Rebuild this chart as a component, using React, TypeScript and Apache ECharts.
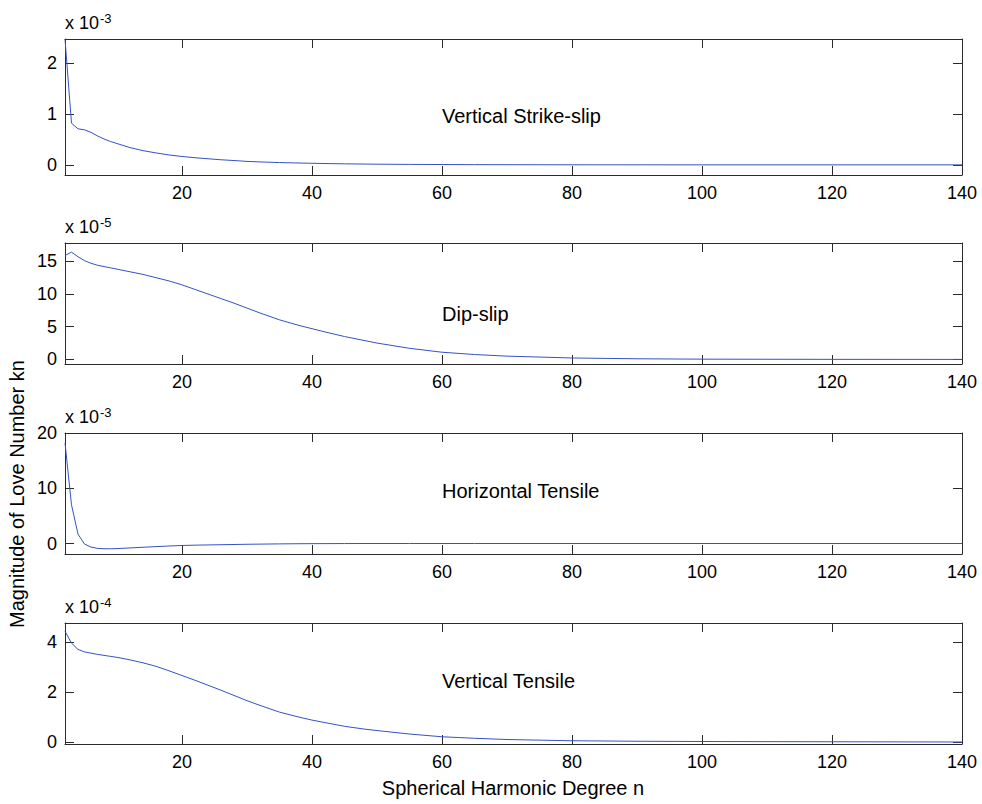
import React, { useEffect, useRef } from "react";
import * as echarts from "echarts";

// Spherical harmonic degree n
const degrees = [2, 3, 4, 5, 6, 7, 8, 9, 10, 12, 14, 16, 18, 20, 22, 24, 26, 28, 30, 32, 35, 38, 40, 42, 45, 48, 50, 55, 60, 65, 70, 80, 90, 100, 120, 140];

// Vertical Strike-slip (x 10^-3)
const strikeSlip = [2.48, 0.82, 0.71, 0.69, 0.64, 0.57, 0.51, 0.46, 0.42, 0.34, 0.28, 0.235, 0.195, 0.165, 0.14, 0.12, 0.1, 0.085, 0.068, 0.058, 0.045, 0.036, 0.031, 0.026, 0.02, 0.016, 0.013, 0.009, 0.006, 0.004, 0.003, 0.001, 0.0005, 0, 0, 0];
// Dip-slip (x 10^-5)
const dipSlip = [15.9, 16.4, 15.7, 15.1, 14.7, 14.4, 14.2, 14.0, 13.8, 13.4, 13.0, 12.5, 12.0, 11.4, 10.7, 10.0, 9.3, 8.6, 7.85, 7.1, 6.05, 5.2, 4.7, 4.2, 3.5, 2.9, 2.5, 1.7, 1.1, 0.75, 0.5, 0.22, 0.1, 0.04, 0.01, 0];
// Horizontal Tensile (x 10^-3)
const horizTensile = [18.2, 7.0, 1.7, -0.1, -0.65, -0.88, -0.95, -0.95, -0.92, -0.8, -0.68, -0.56, -0.45, -0.36, -0.3, -0.26, -0.22, -0.18, -0.14, -0.11, -0.07, -0.04, -0.03, -0.02, -0.01, 0, 0, 0, 0, 0, 0, 0, 0, 0, 0, 0];
// Vertical Tensile (x 10^-4)
const vertTensile = [4.45, 3.97, 3.72, 3.62, 3.57, 3.52, 3.48, 3.44, 3.40, 3.30, 3.18, 3.04, 2.86, 2.67, 2.48, 2.28, 2.08, 1.87, 1.66, 1.47, 1.2, 1.0, 0.88, 0.78, 0.63, 0.52, 0.46, 0.32, 0.21, 0.15, 0.1, 0.05, 0.03, 0.02, 0.01, 0];

const xTicks = [20, 40, 60, 80, 100, 120, 140];
const panelTitles = ["Vertical Strike-slip", "Dip-slip", "Horizontal Tensile", "Vertical Tensile"];
const exponents = ["-3", "-5", "-3", "-4"];
const yTicks = [[0, 1, 2], [0, 5, 10, 15], [0, 10, 20], [0, 2, 4]];
const yRanges = [[-0.2, 2.48], [-0.7, 17.8], [-1.9, 20], [-0.08, 4.78]];
const seriesData = [strikeSlip, dipSlip, horizTensile, vertTensile];

const FONT = "'Liberation Sans', Arial, Helvetica, sans-serif";
const LINE_COLOR = "#3552c4";
const AXIS_COLOR = "#2a2a2a";

const gridTops = [39, 243, 433, 623];
const gridHeights = [136, 121, 121, 121];
const GRID_LEFT = 65;
const GRID_WIDTH = 897;
const textCenters = [116, 314, 491, 681];

export default function App() {
  const ref = useRef<HTMLDivElement>(null);
  useEffect(() => {
    if (!ref.current) return;
    const chart = echarts.init(ref.current, null, { renderer: "svg" });
    const grids: any[] = [];
    const xAxes: any[] = [];
    const yAxes: any[] = [];
    const series: any[] = [];
    const graphics: any[] = [];
    for (let i = 0; i < 4; i++) {
      grids.push({ left: GRID_LEFT, top: gridTops[i], width: GRID_WIDTH, height: gridHeights[i], containLabel: false });
      const tickCommon = { show: true, inside: true, length: 9, lineStyle: { color: AXIS_COLOR, width: 1 } };
      xAxes.push({
        type: "value", gridIndex: i, min: 2, max: 140, position: "bottom",
        axisLine: { show: true, onZero: false, lineStyle: { color: AXIS_COLOR, width: 1 } },
        axisTick: { ...tickCommon, customValues: xTicks },
        axisLabel: { show: true, customValues: xTicks, fontSize: 18, fontFamily: FONT, color: "#000", margin: 9 },
        splitLine: { show: false },
      });
      xAxes.push({
        type: "value", gridIndex: i, min: 2, max: 140, position: "top",
        axisLine: { show: true, onZero: false, lineStyle: { color: AXIS_COLOR, width: 1 } },
        axisTick: { ...tickCommon, customValues: xTicks },
        axisLabel: { show: false },
        splitLine: { show: false },
      });
      yAxes.push({
        type: "value", gridIndex: i, min: yRanges[i][0], max: yRanges[i][1], position: "left",
        axisLine: { show: true, onZero: false, lineStyle: { color: AXIS_COLOR, width: 1 } },
        axisTick: { ...tickCommon, customValues: yTicks[i] },
        axisLabel: { show: true, customValues: yTicks[i], fontSize: 18, fontFamily: FONT, color: "#000", margin: 8 },
        splitLine: { show: false },
      });
      yAxes.push({
        type: "value", gridIndex: i, min: yRanges[i][0], max: yRanges[i][1], position: "right",
        axisLine: { show: true, onZero: false, lineStyle: { color: AXIS_COLOR, width: 1 } },
        axisTick: { ...tickCommon, customValues: yTicks[i] },
        axisLabel: { show: false },
        splitLine: { show: false },
      });
      series.push({
        type: "line",
        xAxisIndex: i * 2,
        yAxisIndex: i * 2,
        data: degrees.map((n, k) => [n, seriesData[i][k]]),
        showSymbol: false,
        symbol: "none",
        lineStyle: { color: LINE_COLOR, width: 1 },
        clip: true,
      });
      graphics.push({
        type: "text", x: 65, y: gridTops[i] - 16,
        style: { text: "x 10", fontSize: 18, fontFamily: FONT, fill: "#000", align: "left", verticalAlign: "middle" },
      });
      graphics.push({
        type: "text", x: 100, y: gridTops[i] - 21,
        style: { text: exponents[i], fontSize: 13, fontFamily: FONT, fill: "#000", align: "left", verticalAlign: "middle" },
      });
      graphics.push({
        type: "text", x: 442, y: textCenters[i],
        style: { text: panelTitles[i], fontSize: 20, fontFamily: FONT, fill: "#000", align: "left", verticalAlign: "middle" },
      });
    }
    graphics.push({
      type: "text", x: 513, y: 788,
      style: { text: "Spherical Harmonic Degree n", fontSize: 20, fontFamily: FONT, fill: "#000", align: "center", verticalAlign: "middle" },
    });
    graphics.push({
      type: "text", x: 17, y: 494, rotation: Math.PI / 2,
      style: { text: "Magnitude of Love Number kn", fontSize: 20, fontFamily: FONT, fill: "#000", align: "center", verticalAlign: "middle" },
    });
    chart.setOption({
      animation: false,
      backgroundColor: "#fff",
      grid: grids,
      xAxis: xAxes,
      yAxis: yAxes,
      series,
      graphic: graphics,
    });
    return () => chart.dispose();
  }, []);
  return (
    <div
      ref={ref}
      style={{ position: "absolute", left: 0, top: 0, width: 982, height: 804, background: "#fff" }}
    />
  );
}
